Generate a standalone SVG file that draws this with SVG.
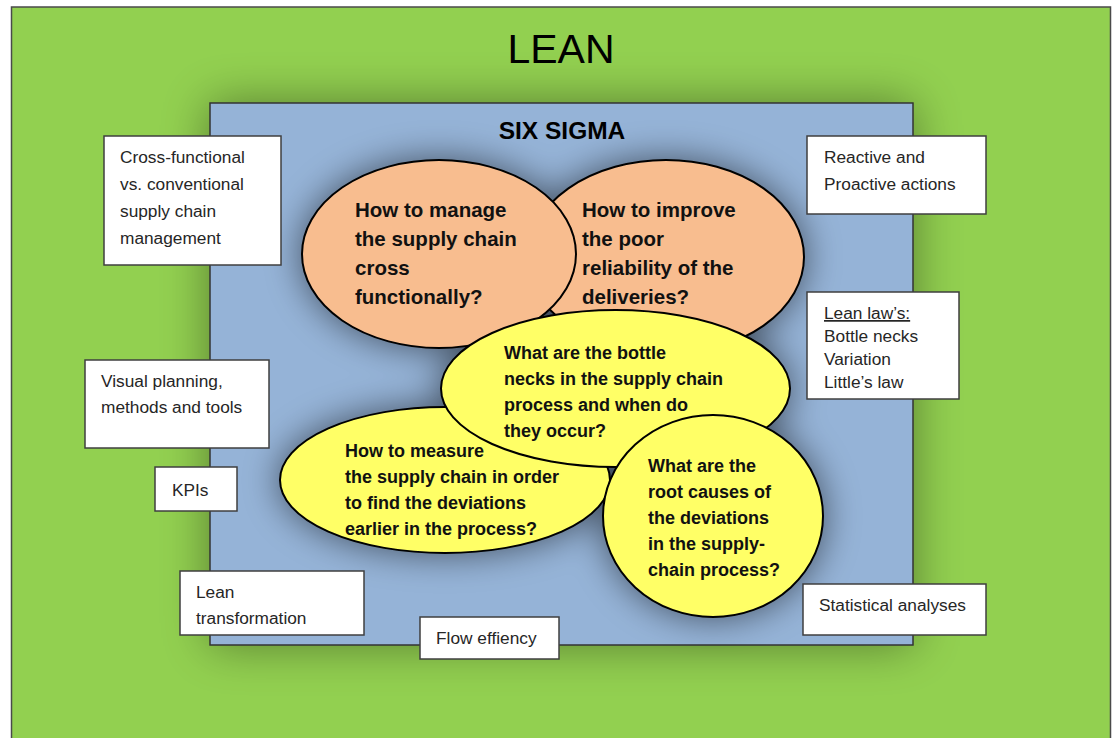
<svg xmlns="http://www.w3.org/2000/svg" width="1117" height="738" viewBox="0 0 1117 738">
<defs>
<style>
.frame{fill:#92D050;stroke:#4a4a4a;stroke-width:1.5}
.six{fill:#95B3D7;stroke:#333;stroke-width:1.5}
.box{fill:#fff;stroke:#3f3f3f;stroke-width:1.5}
.org{fill:#F8BD8F;stroke:#000;stroke-width:2}
.yel{fill:#FFFF66;stroke:#000;stroke-width:2}
.bx{font-family:"Liberation Sans",Arial,sans-serif;font-size:17.3px;fill:#262626}
.q{font-family:"Liberation Sans",Arial,sans-serif;font-weight:bold;font-size:18px;fill:#111}
.qb{font-size:20.5px}
.title{font-family:"Liberation Sans",Arial,sans-serif;fill:#000}
</style>
<filter id="shadowBig" x="-20%" y="-20%" width="140%" height="140%">
<feGaussianBlur in="SourceAlpha" stdDeviation="24"/>
<feComponentTransfer><feFuncA type="linear" slope="0.4"/></feComponentTransfer>
<feMerge><feMergeNode/><feMergeNode in="SourceGraphic"/></feMerge>
</filter>
<filter id="shadowEll" x="-30%" y="-30%" width="160%" height="160%">
<feGaussianBlur in="SourceAlpha" stdDeviation="18"/>
<feComponentTransfer><feFuncA type="linear" slope="0.55"/></feComponentTransfer>
<feMerge><feMergeNode/><feMergeNode in="SourceGraphic"/></feMerge>
</filter>
</defs>

<g id="lean">
<rect class="frame" x="11.5" y="7" width="1099" height="745"/>
<text class="title" x="561" y="63" font-size="41" text-anchor="middle">LEAN</text>
</g>

<g id="six-sigma" filter="url(#shadowBig)">
<rect class="six" x="210" y="103" width="703" height="542"/>
</g>
<text class="title" x="562" y="139" font-size="24.5" font-weight="bold" text-anchor="middle">SIX SIGMA</text>

<g id="questions" filter="url(#shadowEll)">
<ellipse class="org" cx="666" cy="257" rx="138" ry="97"/>
<ellipse class="org" cx="439" cy="254" rx="137" ry="94"/>
<ellipse class="yel" cx="445" cy="480" rx="165" ry="73"/>
<ellipse class="yel" cx="615.5" cy="388.5" rx="174.5" ry="78.5"/>
<ellipse class="yel" cx="713" cy="516" rx="110" ry="101"/>
</g>

<g id="q-improve">
<text class="q qb"><tspan x="582" y="217">How to improve</tspan><tspan x="582" y="246">the poor</tspan><tspan x="582" y="275">reliability of the</tspan><tspan x="582" y="304">deliveries?</tspan></text>
</g>
<g id="q-manage">
<text class="q qb"><tspan x="355" y="217">How to manage</tspan><tspan x="355" y="246">the supply chain</tspan><tspan x="355" y="275">cross</tspan><tspan x="355" y="304">functionally?</tspan></text>
</g>
<g id="q-measure">
<text class="q"><tspan x="345" y="456.5">How to measure</tspan><tspan x="345" y="482.5">the supply chain in order</tspan><tspan x="345" y="508.5">to find the deviations</tspan><tspan x="345" y="534.5">earlier in the process?</tspan></text>
</g>
<g id="q-bottlenecks">
<text class="q"><tspan x="504" y="358.5">What are the bottle</tspan><tspan x="504" y="384.5">necks in the supply chain</tspan><tspan x="504" y="410.5">process and when do</tspan><tspan x="504" y="436.5">they occur?</tspan></text>
</g>
<g id="q-rootcauses">
<text class="q"><tspan x="648" y="471.5">What are the</tspan><tspan x="648" y="497.5">root causes of</tspan><tspan x="648" y="523.5">the deviations</tspan><tspan x="648" y="549.5">in the supply-</tspan><tspan x="648" y="575.5">chain process?</tspan></text>
</g>

<g id="box-crossfunctional">
<rect class="box" x="104" y="136" width="177" height="129"/>
<text class="bx"><tspan x="120" y="163">Cross-functional</tspan><tspan x="120" y="190">vs. conventional</tspan><tspan x="120" y="217">supply chain</tspan><tspan x="120" y="244">management</tspan></text>
</g>
<g id="box-reactive">
<rect class="box" x="807" y="136" width="179" height="78"/>
<text class="bx"><tspan x="824" y="163">Reactive and</tspan><tspan x="824" y="190">Proactive actions</tspan></text>
</g>
<g id="box-leanlaws">
<rect class="box" x="807" y="292" width="152" height="107"/>
<text class="bx"><tspan x="824" y="319" text-decoration="underline">Lean law’s:</tspan><tspan x="824" y="342">Bottle necks</tspan><tspan x="824" y="365">Variation</tspan><tspan x="824" y="388">Little’s law</tspan></text>
</g>
<g id="box-visual">
<rect class="box" x="85" y="360" width="184" height="88"/>
<text class="bx"><tspan x="101" y="387">Visual planning,</tspan><tspan x="101" y="413">methods and tools</tspan></text>
</g>
<g id="box-kpis">
<rect class="box" x="155" y="467" width="82" height="44"/>
<text class="bx" x="172" y="496">KPIs</text>
</g>
<g id="box-transformation">
<rect class="box" x="180" y="571" width="184" height="64"/>
<text class="bx"><tspan x="196" y="598">Lean</tspan><tspan x="196" y="624">transformation</tspan></text>
</g>
<g id="box-flow">
<rect class="box" x="420" y="617" width="139" height="42"/>
<text class="bx" x="436" y="644">Flow effiency</text>
</g>
<g id="box-statistical">
<rect class="box" x="803" y="584" width="183" height="51"/>
<text class="bx" x="819" y="611">Statistical analyses</text>
</g>
<g id="connectors"/>
</svg>
